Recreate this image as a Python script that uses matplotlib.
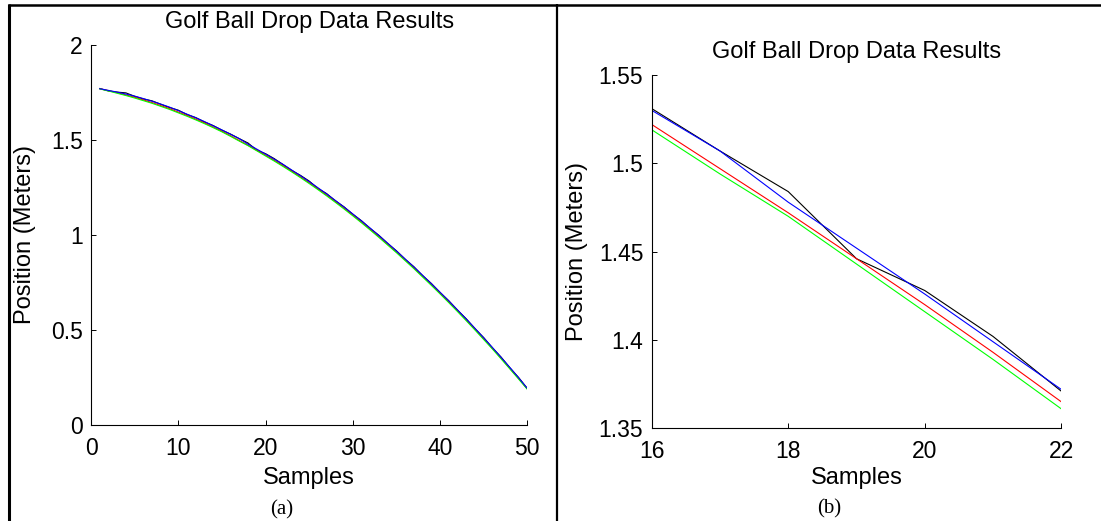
import matplotlib
matplotlib.use("Agg")
import matplotlib.pyplot as plt
from matplotlib.lines import Line2D

plt.rcParams['font.family'] = ['Liberation Sans', 'DejaVu Sans']

# ---------------- data ----------------
samples = list(range(1, 51))

measured = [1.771, 1.758, 1.752, 1.748, 1.730, 1.716, 1.706, 1.688, 1.671, 1.657,
            1.634, 1.618, 1.595, 1.576, 1.552, 1.531, 1.507, 1.484, 1.446, 1.428,
            1.402, 1.371, 1.340, 1.314, 1.284, 1.245, 1.218, 1.180, 1.148, 1.109,
            1.075, 1.034, 0.998, 0.955, 0.917, 0.872, 0.833, 0.786, 0.745, 0.697,
            0.654, 0.604, 0.559, 0.507, 0.460, 0.406, 0.357, 0.301, 0.250, 0.192]

red_series = [1.770, 1.760, 1.749, 1.737, 1.725, 1.711, 1.697, 1.681, 1.665, 1.647,
              1.629, 1.610, 1.590, 1.568, 1.546, 1.522, 1.497, 1.472, 1.446, 1.420,
              1.393, 1.365, 1.336, 1.306, 1.275, 1.243, 1.210, 1.176, 1.141, 1.105,
              1.068, 1.030, 0.991, 0.951, 0.911, 0.869, 0.827, 0.783, 0.739, 0.694,
              0.648, 0.601, 0.553, 0.504, 0.454, 0.403, 0.351, 0.298, 0.245, 0.190]

green_series = [1.769, 1.758, 1.746, 1.734, 1.721, 1.707, 1.693, 1.677, 1.661, 1.643,
                1.625, 1.606, 1.586, 1.565, 1.543, 1.519, 1.494, 1.470, 1.443, 1.416,
                1.389, 1.361, 1.332, 1.302, 1.271, 1.239, 1.206, 1.172, 1.137, 1.101,
                1.064, 1.026, 0.987, 0.947, 0.907, 0.865, 0.823, 0.779, 0.735, 0.690,
                0.644, 0.597, 0.549, 0.500, 0.450, 0.400, 0.348, 0.295, 0.242, 0.188]

blue_series = [1.770, 1.761, 1.752, 1.742, 1.731, 1.718, 1.704, 1.689, 1.673, 1.655,
               1.636, 1.617, 1.597, 1.575, 1.553, 1.530, 1.507, 1.478, 1.452, 1.426,
               1.399, 1.372, 1.342, 1.312, 1.281, 1.249, 1.216, 1.182, 1.147, 1.111,
               1.074, 1.036, 0.997, 0.957, 0.916, 0.874, 0.832, 0.788, 0.744, 0.699,
               0.653, 0.606, 0.558, 0.509, 0.459, 0.408, 0.356, 0.303, 0.249, 0.193]

title_text = "Golf Ball Drop Data Results"
xlabel_text = "Samples"
ylabel_text = "Position (Meters)"

left_xticks = [0, 10, 20, 30, 40, 50]
left_yticks = [0, 0.5, 1, 1.5, 2]
left_yticklabels = ["0", "0.5", "1", "1.5", "2"]

right_xticks = [16, 18, 20, 22]
right_yticks = [1.35, 1.4, 1.45, 1.5, 1.55]
right_yticklabels = ["1.35", "1.4", "1.45", "1.5", "1.55"]

captions = ["(a)", "(b)"]

# ---------------- figure ----------------
W, H = 1101, 521
fig = plt.figure(figsize=(W / 100, H / 100), dpi=100)
fig.patch.set_facecolor("white")

def frac_rect(l, t, r, b):
    return [l / W, 1 - b / H, (r - l) / W, (b - t) / H]

ax1 = fig.add_axes(frac_rect(91, 45, 527.3, 425))
ax2 = fig.add_axes(frac_rect(651.7, 75, 1061.3, 428.3))

series = [(measured, "#000000"), (red_series, "#ff0000"),
          (green_series, "#00ff00"), (blue_series, "#0000ff")]

for ax in (ax1, ax2):
    for vals, col in series:
        ax.plot(samples, vals, color=col, linewidth=0.8, solid_joinstyle="miter")
    ax.spines["top"].set_visible(False)
    ax.spines["right"].set_visible(False)
    ax.spines["left"].set_linewidth(0.8)
    ax.spines["bottom"].set_linewidth(0.8)
    ax.tick_params(direction="in", length=3.5, width=0.7, labelsize=16.5,
                   colors="black")
    ax.tick_params(axis="x", pad=8.5)
    ax.tick_params(axis="y", pad=6)
    ax.set_title(title_text, fontsize=17, pad=12)
    ax.set_xlabel(xlabel_text, fontsize=17)
    ax.set_ylabel(ylabel_text, fontsize=17)

ax1.set_xlim(0, 50)
ax1.set_ylim(0, 2)
ax1.set_xticks(left_xticks)
ax1.set_yticks(left_yticks)
ax1.set_yticklabels(left_yticklabels)
ax1.xaxis.set_label_coords(0.5, -0.11)
ax1.yaxis.set_label_coords(-0.125, 0.5)

ax2.set_xlim(16, 22)
ax2.set_ylim(1.35, 1.55)
ax2.set_xticks(right_xticks)
ax2.set_yticks(right_yticks)
ax2.set_yticklabels(right_yticklabels)
ax2.xaxis.set_label_coords(0.5, -0.11)
ax2.yaxis.set_label_coords(-0.155, 0.5)

# table-like borders
def fig_line(x0, y0, x1, y1, lw):
    fig.add_artist(Line2D([x0 / W, x1 / W], [1 - y0 / H, 1 - y1 / H],
                          transform=fig.transFigure, color="black",
                          linewidth=lw, solid_capstyle="butt"))

fig_line(8, 5, W, 5, 1.8)
fig_line(9, 4, 9, H, 2.2)
fig_line(557, 4, 557, H, 1.6)

# captions
fig.text(282 / W, 1 - 510 / H, captions[0], ha="center", va="center",
         fontsize=15, family=["Liberation Serif", "DejaVu Serif"])
fig.text(829 / W, 1 - 509 / H, captions[1], ha="center", va="center",
         fontsize=15, family=["Liberation Serif", "DejaVu Serif"])

fig.savefig("out.png", dpi=100, facecolor="white")
